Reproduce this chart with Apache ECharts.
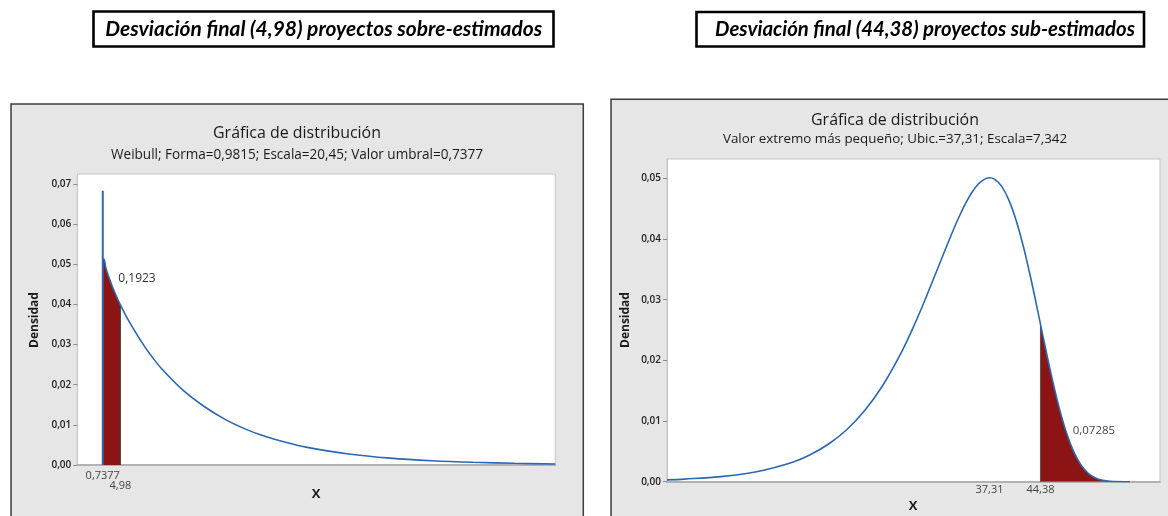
<!DOCTYPE html>
<html><head><meta charset="utf-8">
<script src="https://cdn.jsdelivr.net/npm/echarts@6/dist/echarts.min.js"></script>
<style>html,body{margin:0;padding:0;background:#fff}#c{width:1168px;height:516px}</style>
</head><body><div id="c"></div>
<script>
// ---------- data ----------
const leftTitle = 'Desviación final (4,98) proyectos sobre-estimados';
const rightTitle = 'Desviación final (44,38) proyectos sub-estimados';
const chartTitle = 'Gráfica de distribución';
const leftSub = 'Weibull; Forma=0,9815; Escala=20,45; Valor umbral=0,7377';
const rightSub = 'Valor extremo más pequeño; Ubic.=37,31; Escala=7,342';

const leftThreshold = 0.7377;
const leftSpikeTop = 0.0683;
const leftCut = 4.98;
const leftAreaLabel = '0,1923';
const leftX = [1, 1.5, 2, 3, 4, 4.98, 7, 10, 12, 15, 20, 25, 30, 35, 40, 45, 50, 60, 70, 80, 90, 100, 109.8];
const leftY = [0.0513, 0.0490, 0.0474, 0.0446, 0.0421, 0.0399, 0.0359, 0.0308, 0.0278, 0.0239, 0.0187, 0.0147, 0.0115, 0.0090, 0.0071, 0.0056, 0.0044, 0.00275, 0.00171, 0.00107, 0.00067, 0.00042, 0.00026];
const leftYTicks = [0, 0.01, 0.02, 0.03, 0.04, 0.05, 0.06, 0.07];

const rightMode = 37.31;
const rightCut = 44.38;
const rightAreaLabel = '0,07285';
const rightX = [-7.42, -5, 0, 5, 10, 12.5, 15, 17.5, 20, 22.5, 25, 26.5, 28, 30, 32, 33, 34, 35, 36, 37.31, 38, 39, 40, 41, 42, 43, 43.5, 44, 44.38, 45, 46, 47, 48, 49, 50, 51, 52, 53, 54, 56.8];
const rightY = [0.0003, 0.00043, 0.00084, 0.00165, 0.00322, 0.00449, 0.00622, 0.00857, 0.01173, 0.01586, 0.02112, 0.02483, 0.02893, 0.03478, 0.04068, 0.04343, 0.04589, 0.04792, 0.04936, 0.05011, 0.04988, 0.04869, 0.04643, 0.04311, 0.03881, 0.03374, 0.03099, 0.02817, 0.02599, 0.02245, 0.01697, 0.01208, 0.00802, 0.00491, 0.00275, 0.00138, 0.00062, 0.00024, 0.00008, 0.0];
const rightYTicks = [0, 0.01, 0.02, 0.03, 0.04, 0.05];

// ---------- helpers ----------
const BLUE = '#2a68b5', RED = '#8c1414', FONT = 'Open Sans', SMOOTH = 0.35;
const cv = document.createElement('canvas').getContext('2d');
function tw(str, font) { cv.font = font; return cv.measureText(str).width; }
function fitSize(str, pre, fam, target) { return 100 * target / tw(str, pre + ' 100px ' + fam); }
const comma = v => String(v).replace('.', ',');
const zip = (xs, ys) => xs.map((x, i) => [x, ys[i]]);

const leftCurve = zip(leftX, leftY);
const leftFill = [[leftThreshold, leftY[0]]].concat(leftCurve.filter(p => p[0] <= leftCut));
const leftCutY = leftY[leftX.indexOf(leftCut)];
const rightCurve = zip(rightX, rightY);
const rightFill = rightCurve.filter(p => p[0] >= rightCut);
const rightCutY = rightY[rightX.indexOf(rightCut)];

function txt(str, x, y, font, opts) {
  opts = opts || {};
  return Object.assign({
    type: 'text', x: x, y: y, z: 100,
    style: { text: str, x: 0, y: 0, font: font, fill: opts.fill || '#1a1a1a',
      align: opts.align || 'center', verticalAlign: 'middle' }
  }, opts.el || {});
}
function banner(str, cx, cy, targetW) {
  const f = 'italic bold 21px Lato';
  return txt(str, cx, cy, f, { fill: '#000', el: { scaleX: targetW / tw(str, f) } });
}
const tSizeL = fitSize(chartTitle, 'normal', FONT, 168);
const sSizeL = fitSize(leftSub, 'normal', FONT, 372);
const sSizeR = fitSize(rightSub, 'normal', FONT, 344);

const yAxisBase = (grid, max, ticks) => ({
  type: 'value', gridIndex: grid, min: 0, max: max, position: 'left',
  axisLine: { show: true, onZero: false, lineStyle: { color: '#c6c6c6', width: 1 } }, splitLine: { show: false },
  axisTick: { show: true, length: 4, customValues: ticks, lineStyle: { color: '#8a8a8a' } },
  axisLabel: { customValues: ticks, margin: 6, fontSize: 10, fontWeight: 600, fontFamily: FONT, color: '#222',
    formatter: v => v.toFixed(2).replace('.', ',') }
});
const xAxisBase = (grid, min, max, vals, margin, line) => ({
  type: 'value', gridIndex: grid, min: min, max: max, position: 'bottom',
  axisLine: line ? { show: true, onZero: false, lineStyle: { color: '#b2b2b2', width: 2 } } : { show: false, onZero: false },
  axisTick: { show: false }, splitLine: { show: false },
  axisLabel: { customValues: vals, margin: margin, fontSize: 11, fontFamily: FONT, color: '#444', formatter: comma }
});

const chart = echarts.init(document.getElementById('c'), null, { renderer: 'canvas' });
chart.setOption({
  backgroundColor: '#fff',
  animation: false,
  grid: [
    { left: 77.3, top: 174, width: 478, height: 291, show: true, backgroundColor: '#fff', borderColor: '#c6c6c6', borderWidth: 1 },
    { left: 667, top: 159, width: 493, height: 322.7, show: true, backgroundColor: '#fff', borderColor: '#c6c6c6', borderWidth: 1 }
  ],
  xAxis: [
    xAxisBase(0, -5.4, 109.8, [leftThreshold], 5, true),
    xAxisBase(0, -5.4, 109.8, [leftCut], 15, false),
    xAxisBase(1, -7.42, 60.96, [rightMode, rightCut], 3, true)
  ],
  yAxis: [
    yAxisBase(0, 0.0725, leftYTicks),
    yAxisBase(1, 0.0532, rightYTicks)
  ],
  series: [
    { type: 'line', xAxisIndex: 0, yAxisIndex: 0, data: leftFill, showSymbol: false, smooth: SMOOTH,
      lineStyle: { width: 0 }, areaStyle: { color: RED, opacity: 1 }, silent: true, z: 2 },
    { type: 'line', xAxisIndex: 0, yAxisIndex: 0, data: [[leftCut, 0], [leftCut, leftCutY]], showSymbol: false,
      lineStyle: { color: '#3a3a3a', width: 1 }, silent: true, z: 3 },
    { type: 'line', xAxisIndex: 0, yAxisIndex: 0, data: [[leftThreshold, 0], [leftThreshold, leftSpikeTop]], showSymbol: false,
      lineStyle: { color: BLUE, width: 2 }, silent: true, z: 4 },
    { type: 'line', xAxisIndex: 0, yAxisIndex: 0, data: [[leftThreshold, leftY[0]]].concat(leftCurve), showSymbol: false, smooth: SMOOTH,
      lineStyle: { color: BLUE, width: 1.6 }, silent: true, z: 4 },

    { type: 'line', xAxisIndex: 2, yAxisIndex: 1, data: rightFill, showSymbol: false, smooth: SMOOTH,
      lineStyle: { width: 0 }, areaStyle: { color: RED, opacity: 1 }, silent: true, z: 2 },
    { type: 'line', xAxisIndex: 2, yAxisIndex: 1, data: [[rightCut, 0], [rightCut, rightCutY]], showSymbol: false,
      lineStyle: { color: '#555', width: 1 }, silent: true, z: 3 },
    { type: 'line', xAxisIndex: 2, yAxisIndex: 1, data: rightCurve, showSymbol: false, smooth: SMOOTH,
      lineStyle: { color: BLUE, width: 1.6 }, silent: true, z: 4 }
  ],
  graphic: [
    { type: 'rect', z: -10, shape: { x: 11, y: 104, width: 572.3, height: 430 },
      style: { fill: '#e6e6e6', stroke: '#3c3c3c', lineWidth: 1.5 } },
    { type: 'rect', z: -10, shape: { x: 611, y: 99.3, width: 620, height: 440 },
      style: { fill: '#e6e6e6', stroke: '#3c3c3c', lineWidth: 1.5 } },
    { type: 'rect', z: 90, shape: { x: 93.5, y: 11.5, width: 460, height: 35 },
      style: { fill: '#fff', stroke: '#000', lineWidth: 2.6 } },
    { type: 'rect', z: 90, shape: { x: 696.5, y: 12, width: 447.5, height: 34.5 },
      style: { fill: '#fff', stroke: '#000', lineWidth: 2.6 } },
    banner(leftTitle, 323.7, 29.5, 437),
    banner(rightTitle, 925, 29.5, 420),

    txt(chartTitle, 297, 133.3, 'normal ' + tSizeL.toFixed(2) + 'px ' + FONT),
    txt(leftSub, 297, 155, 'normal ' + sSizeL.toFixed(2) + 'px ' + FONT),
    txt(chartTitle, 895, 120.7, 'normal ' + tSizeL.toFixed(2) + 'px ' + FONT),
    txt(rightSub, 895, 139.3, 'normal ' + sSizeR.toFixed(2) + 'px ' + FONT),

    txt('Densidad', 35, 320, 'bold 12px ' + FONT, { el: { rotation: Math.PI / 2 } }),
    txt('Densidad', 626, 320, 'bold 12px ' + FONT, { el: { rotation: Math.PI / 2 } }),
    txt('X', 316, 494, 'bold 13px ' + FONT),
    txt('X', 913, 506.7, 'bold 13px ' + FONT),

    txt(leftAreaLabel, 118.3, 278.3, 'normal 12px ' + FONT, { align: 'left', fill: '#333' }),
    txt(rightAreaLabel, 1072.7, 431, 'normal 11.5px ' + FONT, { align: 'left', fill: '#444' })
  ]
});
</script>
</body></html>
